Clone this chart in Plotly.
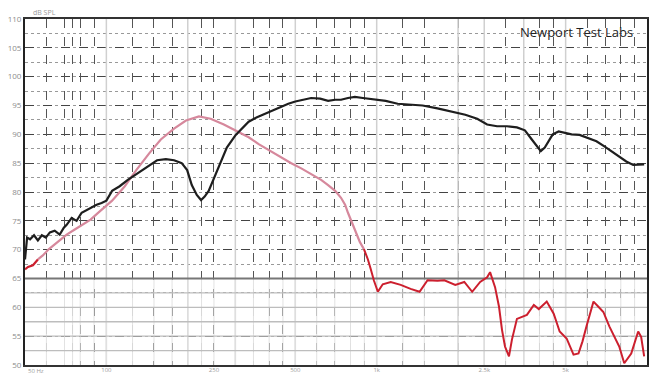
import plotly.graph_objects as go

# ---- data (frequency in Hz, level in dB SPL) ----
black_f = [50, 50.9, 52.2, 54.0, 55.8, 57.7, 59.7, 61.8, 64.4, 67.2, 69.6, 71.3, 74.4, 77.6, 81.0,
           84.5, 88.2, 92.0, 96.0, 100, 105, 112, 120, 127, 135, 144, 154, 166, 178, 190, 199, 207,
           216, 224, 231, 239, 250, 261, 279, 301, 319, 336, 359, 388, 415, 444, 471, 500, 535, 572,
           618, 661, 702, 738, 783, 831, 889, 984, 1080, 1196, 1324, 1478, 1678, 1905, 2127, 2354,
           2562, 2788, 3034, 3302, 3534, 3749, 3912, 4047, 4186, 4330, 4479, 4712, 4958, 5261, 5631,
           6075, 6501, 6957, 7381, 7832, 8382, 8891, 9358, 9761]
black_db = [68.3, 72.1, 71.8, 72.5, 71.6, 72.5, 72.1, 73.0, 73.3, 72.6, 73.8, 74.3, 75.5, 75.0, 76.4,
            76.9, 77.3, 77.8, 78.1, 78.5, 80.2, 81.0, 82.1, 82.9, 83.8, 84.7, 85.5, 85.7, 85.5, 85.0,
            83.8, 81.2, 79.5, 78.6, 79.2, 80.2, 82.4, 84.7, 87.7, 89.9, 91.2, 92.2, 92.9, 93.6, 94.3,
            94.8, 95.3, 95.7, 96.0, 96.3, 96.2, 95.8, 96.0, 96.0, 96.3, 96.5, 96.3, 96.0, 95.8, 95.3,
            95.1, 95.0, 94.5, 93.9, 93.4, 92.7, 91.7, 91.4, 91.4, 91.2, 90.7, 89.1, 87.9, 87.1, 87.7,
            88.8, 90.0, 90.5, 90.3, 90.0, 89.9, 89.3, 88.8, 87.9, 87.1, 86.2, 85.3, 84.7, 84.7, 84.8]

pink_f = [55.8, 58.2, 61.3, 64.4, 67.8, 71.3, 76.4, 81.7, 87.4, 94.3, 105, 117, 129, 144, 159, 178,
          197, 220, 243, 272, 301, 336, 366, 405, 444, 483, 526, 572, 623, 661, 702, 738, 764, 783,
          810, 838, 867, 897]
pink_db = [68.3, 69.0, 70.1, 70.9, 71.8, 72.6, 73.5, 74.3, 75.2, 76.6, 78.5, 81.0, 83.8, 86.7, 89.1,
           91.0, 92.4, 93.1, 92.7, 91.7, 90.7, 89.5, 88.3, 87.1, 85.9, 85.0, 84.1, 83.1, 82.1, 81.2,
           80.2, 79.0, 77.8, 76.4, 74.7, 73.0, 71.3, 70.1]

red_low_f = [50, 51.3, 53.5, 55.8]
red_low_db = [66.6, 67.0, 67.3, 68.3]

red_high_f = [897, 928, 951, 976, 1010, 1053, 1127, 1227, 1335, 1441, 1542, 1678, 1780, 1953, 2109,
              2256, 2414, 2562, 2627, 2741, 2835, 2908, 2983, 3086, 3165, 3302, 3595, 3814, 3978,
              4257, 4517, 4752, 5043, 5216, 5348, 5580, 5773, 5973, 6340, 6611, 6896, 7255, 7569,
              7895, 8238, 8742, 9276, 9513, 9761]
red_high_db = [70.1, 68.3, 66.6, 64.7, 62.7, 64.0, 64.4, 63.9, 63.2, 62.7, 64.7, 64.6, 64.7, 63.9,
               64.4, 62.7, 64.4, 65.2, 66.1, 63.5, 60.1, 56.1, 53.2, 51.5, 54.4, 58.0, 58.7, 60.4,
               59.7, 61.0, 58.9, 55.8, 54.6, 52.9, 51.8, 52.0, 54.1, 56.7, 61.0, 60.1, 59.2, 56.7,
               54.9, 53.2, 50.3, 52.0, 55.8, 54.9, 51.5]

x_tick_vals = [50, 100, 250, 500, 1000, 2500, 5000, 10000]
x_tick_text = ["50 Hz", "100", "250", "500", "1k", "2.5k", "5k", "10k"]
y_tick_vals = [50, 55, 60, 65, 70, 75, 80, 85, 90, 95, 100, 105, 110]
grid_f = [60, 70, 75, 80, 90, 100, 125, 150, 175, 200, 225, 250, 300, 350, 400, 450, 500, 600, 700,
          800, 900, 1000, 1250, 1500, 2000, 2500, 3000, 3500, 4000, 4500, 5000, 6000, 7000, 8000, 9000]
light_f = [100, 200, 300, 500, 1000, 2000, 2500, 3500, 5000]
low_grid_db = [52.5, 55, 57.5, 60, 62.5]

F_MIN, F_MAX = 50, 10000
DB_MIN, DB_MAX = 50, 110

fig = go.Figure()

# light solid vertical lines across the full height
lx, ly = [], []
for f in light_f:
    lx += [f, f, None]
    ly += [DB_MIN, DB_MAX, None]
fig.add_trace(go.Scatter(x=lx, y=ly, mode="lines", line=dict(color="#d0d0d0", width=1.5),
                         hoverinfo="skip", showlegend=False))

# lower region solid grid (below 65 dB)
gx, gy = [], []
for f in grid_f:
    gx += [f, f, None]
    gy += [DB_MIN, 65, None]
fig.add_trace(go.Scatter(x=gx, y=gy, mode="lines", line=dict(color="#e2e2e2", width=1),
                         hoverinfo="skip", showlegend=False))
hx, hy = [], []
for d in low_grid_db:
    hx += [F_MIN, F_MAX, None]
    hy += [d, d, None]
fig.add_trace(go.Scatter(x=hx, y=hy, mode="lines", line=dict(color="#bdbdbd", width=1.3),
                         hoverinfo="skip", showlegend=False))
fig.add_trace(go.Scatter(x=[F_MIN, F_MAX], y=[65, 65], mode="lines",
                         line=dict(color="#777777", width=1.8), hoverinfo="skip", showlegend=False))

# curves
fig.add_trace(go.Scatter(x=pink_f, y=pink_db, mode="lines",
                         line=dict(color="#d6889c", width=2.2), showlegend=False))
fig.add_trace(go.Scatter(x=red_low_f, y=red_low_db, mode="lines",
                         line=dict(color="#cc1f2e", width=2.2), showlegend=False))
fig.add_trace(go.Scatter(x=red_high_f, y=red_high_db, mode="lines",
                         line=dict(color="#cc1f2e", width=2, dash="solid"), showlegend=False))
fig.add_trace(go.Scatter(x=black_f, y=black_db, mode="lines",
                         line=dict(color="#1e1e1e", width=2.2), showlegend=False))

# dashed vertical grid via an overlaid axis
fig.add_trace(go.Scatter(x=[F_MIN], y=[DB_MIN], xaxis="x2", mode="markers",
                         marker=dict(opacity=0), hoverinfo="skip", showlegend=False))

# white band hiding dashed grid below 65 dB
fig.add_shape(type="rect", xref="paper", yref="y", x0=0, x1=1, y0=DB_MIN, y1=65,
              fillcolor="white", line=dict(width=0), layer="between")

fig.update_layout(
    width=651, height=375,
    margin=dict(l=25, r=4, t=19, b=10, autoexpand=False),
    paper_bgcolor="white", plot_bgcolor="white",
    font=dict(family="Open Sans, Liberation Sans, sans-serif"),
    xaxis=dict(type="log", range=[1.69897, 4.0], tickvals=x_tick_vals[1:], ticktext=x_tick_text[1:],
               showgrid=False, zeroline=False, showline=True, linecolor="#333333", linewidth=2,
               mirror=True, ticks="", tickfont=dict(size=6, color="#9a9a9a"), automargin=False,
               ticklabelstandoff=-2),
    xaxis2=dict(type="log", range=[1.69897, 4.0], overlaying="x", tickvals=grid_f,
                showticklabels=False, showgrid=True, gridcolor="#555555", gridwidth=1,
                griddash="dash", zeroline=False, showline=False, ticks="", automargin=False),
    yaxis=dict(range=[DB_MIN, DB_MAX], tickvals=y_tick_vals, showgrid=True, gridcolor="#444444",
               gridwidth=1, griddash="dash", zeroline=False, showline=True, linecolor="#222222",
               linewidth=2, mirror=True, ticks="", tickfont=dict(size=8, color="#8c8c8c"),
               automargin=False,
               minor=dict(dtick=2.5, showgrid=True, gridcolor="#999999", griddash="dot",
                          gridwidth=1)),
    annotations=[
        dict(text="Newport Test Labs", xref="paper", yref="paper", x=0.981, y=0.963,
             xanchor="right", yanchor="middle", showarrow=False,
             font=dict(size=13, color="#222222", family="Open Sans, sans-serif")),
        dict(text="dB SPL", xref="paper", yref="paper", x=0.01, y=1.0, xanchor="left",
             yanchor="bottom", showarrow=False, font=dict(size=7, color="#9a9a9a")),
        dict(text=x_tick_text[0], xref="paper", yref="paper", x=0.0, y=0.0, xanchor="left",
             yanchor="top", xshift=1, yshift=0, showarrow=False,
             font=dict(size=6, color="#9a9a9a")),
    ],
)

fig.write_html("out.html")
